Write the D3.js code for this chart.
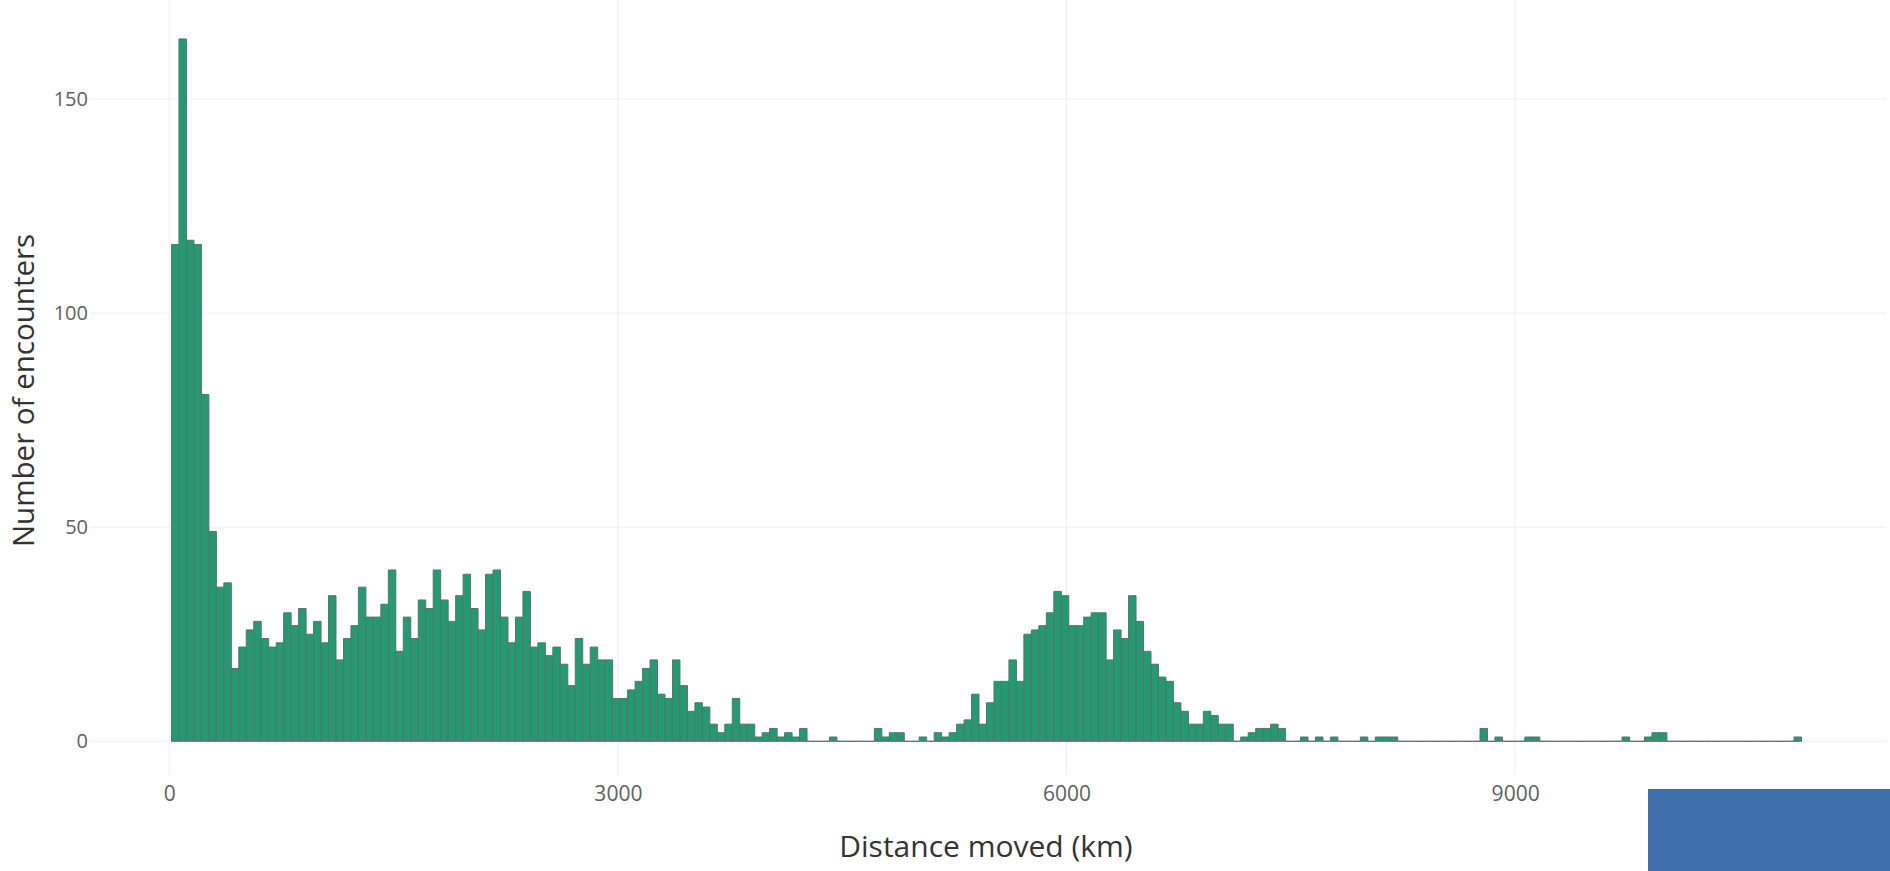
<!DOCTYPE html>
<html>
<head>
<meta charset="utf-8">
<script src="https://cdn.jsdelivr.net/npm/d3@7"></script>
<style>
  html, body { margin: 0; padding: 0; background: #fff; }
  svg { display: block; }
</style>
</head>
<body>
<svg id="chart" width="1890" height="871"></svg>
<script>
// ---- data ----
const binStart = 15;      // km, left edge of the first bin
const binWidth = 50;      // km
const counts = [
  116,164,117,116,81, 49,36,37,17,22, 26,28,24,22,23, 30,27,31,25,28,
  23,34,19,24,27, 36,29,29,32,40, 21,29,24,33,31, 40,33,28,34,39,
  31,26,39,40,29, 23,29,35,22,23, 20,22,18,13,24, 18,22,19,19,10,
  10,12,14,17,19, 11,10,19,13,7, 9,8,4,2,4, 10,4,4,1,2,
  3,1,2,1,3, 0,0,0,1,0, 0,0,0,0,3, 1,2,2,0,0,
  1,0,2,1,2, 4,5,11,4,9, 14,14,19,14,25, 26,27,30,35,34,
  27,27,29,30,30, 19,26,24,34,28, 21,18,15,14,9, 7,4,4,7,6,
  4,4,0,1,2, 3,3,4,3,0, 0,1,0,1,0, 1,0,0,0,1,
  0,1,1,1,0, 0,0,0,0,0, 0,0,0,0,0, 3,0,1,0,0,
  0,1,1,0,0, 0,0,0,0,0, 0,0,0,0,1, 0,0,1,2,2,
  0,0,0,0,0, 0,0,0,0,0, 0,0,0,0,0, 0,0,1
];
const xTicks = [0, 3000, 6000, 9000];
const yTicks = [0, 50, 100, 150];
const xTitle = "Distance moved (km)";
const yTitle = "Number of encounters";

// ---- layout ----
const plot = { left: 90, right: 1886, top: 0, bottom: 775 };
const svg = d3.select("#chart");

const x = d3.scaleLinear().domain([-530, 11480]).range([plot.left, plot.right]);
const y = d3.scaleLinear().domain([-7.87, 173.1]).range([plot.bottom, plot.top]);

const bins = counts.map((c, i) => ({ x0: binStart + i * binWidth, x1: binStart + (i + 1) * binWidth, n: c }));

// grid
const grid = svg.append("g");
grid.selectAll("line.v").data(xTicks).join("line")
  .attr("x1", d => x(d)).attr("x2", d => x(d))
  .attr("y1", plot.top).attr("y2", plot.bottom)
  .attr("stroke", "#eeeeee").attr("stroke-width", 1);
grid.selectAll("line.h").data(yTicks).join("line")
  .attr("x1", plot.left).attr("x2", plot.right)
  .attr("y1", d => y(d)).attr("y2", d => y(d))
  .attr("stroke", "#eeeeee").attr("stroke-width", 1);

// bars (paths, so empty bins still draw their outline on the baseline)
function barPath(d) {
  const p = d3.path();
  const x0 = x(d.x0), x1 = x(d.x1), y0 = y(0), y1 = y(d.n);
  p.moveTo(x0, y0); p.lineTo(x0, y1); p.lineTo(x1, y1); p.lineTo(x1, y0); p.closePath();
  return p.toString();
}
svg.append("g").selectAll("path").data(bins).join("path")
  .attr("d", barPath)
  .attr("fill", "#219b72")
  .attr("stroke", "#6a6a6a")
  .attr("stroke-width", 1);

// axes (labels only, like plotly)
const font = "'Open Sans', 'Liberation Sans', sans-serif";
const xAxis = d3.axisBottom(x).tickValues(xTicks).tickSize(0).tickPadding(0).tickFormat(d3.format("d"));
const gx = svg.append("g").attr("transform", `translate(0, ${plot.bottom + 11})`).call(xAxis);
gx.select(".domain").remove();
gx.selectAll("text").attr("font-family", font).attr("font-size", 21).attr("fill", "#606060").attr("dy", "0.71em");

const yAxis = d3.axisLeft(y).tickValues(yTicks).tickSize(0).tickPadding(0).tickFormat(d3.format("d"));
const gy = svg.append("g").attr("transform", `translate(${plot.left - 2}, 0)`).call(yAxis);
gy.select(".domain").remove();
gy.selectAll("text").attr("font-family", font).attr("font-size", 20).attr("fill", "#606060");

// titles
svg.append("text")
  .attr("x", (plot.left + plot.right) / 2 - 2).attr("y", 857)
  .attr("text-anchor", "middle")
  .attr("font-family", font).attr("font-size", 30).attr("fill", "#333")
  .text(xTitle);
svg.append("text")
  .attr("transform", `translate(34, ${(plot.top + plot.bottom) / 2 + 3}) rotate(-90)`)
  .attr("text-anchor", "middle")
  .attr("font-family", font).attr("font-size", 29.5).attr("fill", "#333")
  .text(yTitle);

// blue overlay block at bottom right of the picture
svg.append("rect")
  .attr("x", 1648).attr("y", 789).attr("width", 242).attr("height", 82)
  .attr("fill", "#3e6fab");
</script>
</body>
</html>
